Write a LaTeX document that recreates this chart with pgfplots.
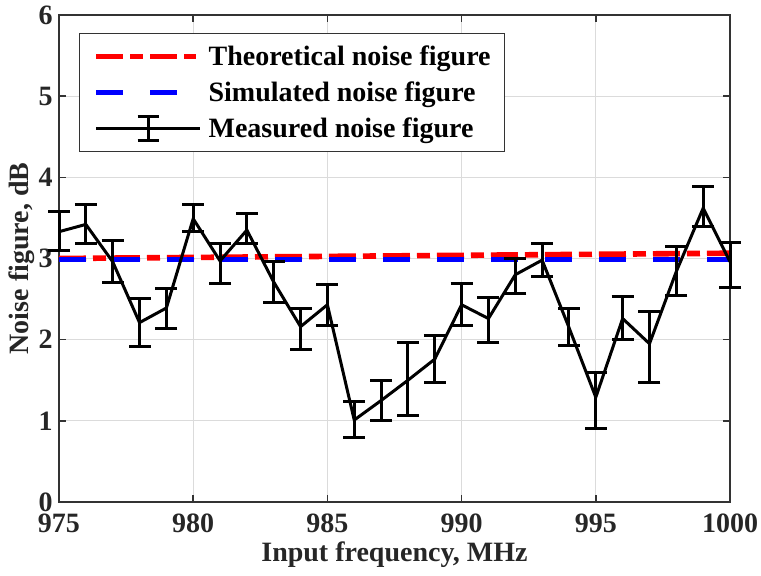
\documentclass[border=0pt]{standalone}
\usepackage{fontspec}
\setmainfont{Liberation Serif}
\usepackage{pgfplots}
\pgfplotsset{compat=1.18}
\usepackage{pgfplotstable}

\pgfplotstableread{
x y ep em
975 3.33 0.25 0.23
976 3.42 0.24 0.24
977 2.96 0.26 0.26
978 2.21 0.30 0.30
979 2.39 0.24 0.25
980 3.49 0.17 0.16
981 2.97 0.22 0.28
982 3.35 0.21 0.17
983 2.71 0.25 0.25
984 2.16 0.23 0.28
985 2.43 0.25 0.25
986 1.01 0.23 0.22
987 1.25 0.25 0.24
988 1.50 0.46 0.43
989 1.76 0.29 0.29
990 2.43 0.26 0.26
991 2.26 0.26 0.29
992 2.80 0.20 0.23
993 2.98 0.20 0.20
994 2.15 0.23 0.22
995 1.29 0.31 0.38
996 2.26 0.27 0.26
997 1.95 0.40 0.48
998 2.84 0.31 0.29
999 3.62 0.27 0.22
1000 2.96 0.24 0.32
}\meas

\begin{document}
\begin{tikzpicture}
\useasboundingbox (0,0) rectangle (380.5pt,288pt);
\begin{axis}[
  at={(29.5pt,37pt)}, anchor=south west,
  scale only axis, width=335.5pt, height=243.5pt,
  xmin=975, xmax=1000, ymin=0, ymax=6,
  xtick={975,980,...,1000}, ytick={0,1,...,6},
  clip=false,
  grid=major, major grid style={black!14, line width=0.6pt},
  axis line style={black!80, line width=0.8pt},
  tick style={black!80, line width=0.8pt},
  major tick length=3.5pt,
  tick align=inside,
  /pgf/number format/assume math mode=true,
  /pgf/number format/1000 sep={},
  tick label style={font=\fontsize{14}{16}\selectfont\bfseries, black!85},
  xticklabel style={anchor=base, yshift=-15.5pt, inner sep=0pt},
  yticklabel style={inner sep=0pt, xshift=-3pt},
  xlabel={Input frequency, MHz},
  ylabel={Noise figure, dB},
  every axis x label/.style={at={(axis description cs:0.5,0)}, anchor=base, yshift=-30pt,
    font=\fontsize{14}{16}\selectfont\bfseries, black!85},
  every axis y label/.style={at={(axis description cs:-0.0559,0.5)}, rotate=90, anchor=center,
    font=\fontsize{14}{16}\selectfont\bfseries, black!85},
  legend style={at={(0,1)}, anchor=north west, xshift=9.85pt, yshift=-8.85pt,
    draw=black!80, line width=0.6pt, fill=white,
    font=\fontsize{14}{16}\selectfont\bfseries,
    inner xsep=7pt, inner ysep=4pt, row sep=3pt, column sep=3.5pt,
    nodes={inner sep=0pt, text height=12pt, text depth=3pt}},
  legend cell align=left,
  legend image code/.code={\draw[#1] (0pt,0pt) -- (50pt,0pt);},
]
\addplot[red, line width=2.8pt, dash pattern=on 13.5pt off 3.5pt on 6.5pt off 3.5pt]
  coordinates {(975,3.00) (1000,3.065)};
\addlegendentry{Theoretical noise figure}
\addplot[blue, line width=2.8pt, dash pattern=on 13.5pt off 13.5pt]
  coordinates {(975,2.99) (1000,2.99)};
\addlegendentry{Simulated noise figure}
\addplot[black, line width=1.5pt, no markers,
  legend image code/.code={
    \draw[black, line width=1.5pt] (0pt,0pt) -- (52pt,0pt);
    \draw[black, line width=1.5pt] (26pt,-6pt) -- (26pt,6pt)
      (20.75pt,-6pt) -- (31.25pt,-6pt) (20.75pt,6pt) -- (31.25pt,6pt);},
  error bars/.cd, y dir=both, y explicit,
  error bar style={line width=1.5pt, black},
  error mark options={rotate=90, mark size=5.5pt, line width=1.5pt, black}]
  table[x=x, y=y, y error plus=ep, y error minus=em]{\meas};
\addlegendentry{Measured noise figure}
\end{axis}
\end{tikzpicture}
\end{document}
